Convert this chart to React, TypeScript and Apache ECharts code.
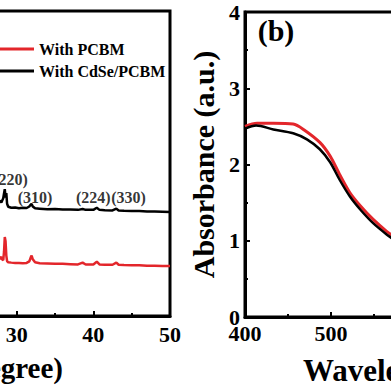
import React, { useEffect, useRef } from "react";
import * as echarts from "echarts";

// XRD panel (a)
const xrdAngle = [27.0, 27.5, 27.8, 28.0, 28.1, 28.25, 28.35, 28.45, 28.55, 28.65, 28.75, 28.9, 29.3, 29.8, 30.3, 30.8, 31.3, 31.65, 31.85, 31.95, 32.1, 32.4, 33.0, 34.0, 35.0, 36.0, 37.0, 38.0, 38.6, 39.0, 40.0, 40.45, 40.8, 41.5, 42.5, 43.0, 43.3, 44.0, 45.0, 46.0, 47.0, 48.0, 49.0, 50.0];
const xrdCdSePCBM = [36.6, 37.2, 37.8, 37.2, 37.8, 38.6, 40.2, 41.6, 38.8, 40.3, 36.8, 35.8, 35.5, 35.6, 35.3, 35.5, 35.4, 35.9, 36.6, 36.7, 35.9, 35.3, 35.2, 35.0, 35.1, 34.9, 34.9, 34.8, 35.1, 34.8, 34.8, 35.5, 34.8, 34.7, 34.6, 35.2, 34.6, 34.5, 34.4, 34.4, 34.3, 34.3, 34.2, 34.1];
const xrdPCBM = [17.8, 18.0, 18.8, 19.4, 18.6, 18.3, 21.0, 25.9, 24.5, 19.8, 18.0, 17.6, 17.5, 17.4, 17.4, 17.3, 17.4, 17.9, 19.3, 19.8, 18.6, 17.6, 17.3, 17.2, 17.1, 17.1, 17.0, 16.9, 17.5, 16.9, 16.9, 17.8, 16.9, 16.8, 16.8, 17.5, 16.8, 16.7, 16.6, 16.6, 16.5, 16.5, 16.4, 16.4];
const peakNames = ["(220)", "(310)", "(224)", "(330)"];
const peakAngles = [29.2, 32.4, 40.0, 44.6];
const peakLabelY = [44.9, 39.0, 39.0, 39.0];

// Absorbance panel (b)
const absWavelengthPCBM = [400, 414, 433, 456, 468, 487, 499, 510, 522, 534, 549, 565, 575];
const absPCBM = [2.5, 2.54, 2.54, 2.53, 2.46, 2.29, 2.11, 1.87, 1.63, 1.46, 1.28, 1.12, 1.04];
const absWavelengthCdSe = [400, 413, 433, 456, 472, 487, 499, 510, 522, 534, 549, 565, 575];
const absCdSePCBM = [2.47, 2.51, 2.46, 2.41, 2.33, 2.2, 2.03, 1.8, 1.58, 1.41, 1.23, 1.08, 1.0];

const seriesNames = ["With PCBM", "With CdSe/PCBM"];
const RED = "#e3262b";
const BLACK = "#000000";
const FONT = "'Liberation Serif', 'Times New Roman', serif";

export default function App() {
  const ref = useRef<HTMLDivElement>(null);
  useEffect(() => {
    if (!ref.current) return;
    const chart = echarts.init(ref.current, null, { renderer: "svg" });
    const axisLine = { show: true, lineStyle: { color: "#000", width: 3 } };
    const tick = { show: true, inside: true, length: 5, lineStyle: { color: "#000", width: 2 } };
    const minor = { show: true, splitNumber: 2, length: 3, lineStyle: { color: "#000", width: 2 } };
    const label = { color: "#000", fontFamily: FONT, fontWeight: "bold" as const, fontSize: 22 };
    chart.setOption({
      animation: false,
      backgroundColor: "#fff",
      legend: {
        data: seriesNames,
        orient: "vertical",
        left: -15,
        top: 36,
        icon: "rect",
        itemWidth: 44,
        itemHeight: 3,
        itemGap: 6,
        selectedMode: false,
        textStyle: { color: "#000", fontFamily: FONT, fontWeight: "bold", fontSize: 16 },
      },
      grid: [
        { left: -60, right: 221, top: 11, bottom: 75, show: true, borderColor: "#000", borderWidth: 3, backgroundColor: "transparent", outerBoundsMode: "none" },
        { left: 245, right: -198, top: 12, bottom: 74, show: true, borderColor: "#000", borderWidth: 3, backgroundColor: "transparent", outerBoundsMode: "none" },
      ],
      xAxis: [
        {
          gridIndex: 0, type: "value", min: 20, max: 50, interval: 10,
          axisLine, axisTick: tick, minorTick: minor, splitLine: { show: false },
          axisLabel: { ...label, margin: 7 },
        },
        {
          gridIndex: 1, type: "value", min: 400, max: 800, interval: 100,
          axisLine, axisTick: tick, minorTick: minor, splitLine: { show: false },
          axisLabel: { ...label, margin: 5 },
          name: "Wavelength (nm)", nameLocation: "middle", nameGap: 38,
          nameTextStyle: { color: "#000", fontFamily: FONT, fontWeight: "bold", fontSize: 31 },
        },
      ],
      yAxis: [
        { gridIndex: 0, type: "value", min: 0, max: 100, show: false, splitLine: { show: false } },
        {
          gridIndex: 1, type: "value", min: 0, max: 4, interval: 1,
          axisLine, axisTick: tick, minorTick: minor, splitLine: { show: false },
          axisLabel: { ...label, margin: 5 },
          name: "Absorbance (a.u.)", nameLocation: "middle", nameGap: 26,
          nameTextStyle: { color: "#000", fontFamily: FONT, fontWeight: "bold", fontSize: 30 },
        },
      ],
      series: [
        {
          name: seriesNames[0], type: "line", xAxisIndex: 0, yAxisIndex: 0,
          data: xrdAngle.map((a, i) => [a, xrdPCBM[i]]),
          showSymbol: false, lineStyle: { color: RED, width: 2.5 }, itemStyle: { color: RED },
        },
        {
          name: seriesNames[1], type: "line", xAxisIndex: 0, yAxisIndex: 0,
          data: xrdAngle.map((a, i) => [a, xrdCdSePCBM[i]]),
          showSymbol: false, lineStyle: { color: BLACK, width: 2.5 }, itemStyle: { color: BLACK },
        },
        {
          name: "peaks", type: "scatter", xAxisIndex: 0, yAxisIndex: 0, symbolSize: 0,
          data: peakNames.map((n, i) => ({ name: n, value: [peakAngles[i], peakLabelY[i]] })),
          label: {
            show: true, position: "inside", formatter: "{b}",
            color: "#000", fontFamily: FONT, fontWeight: "bold", fontSize: 16,
          },
        },
        {
          name: seriesNames[0], type: "line", xAxisIndex: 1, yAxisIndex: 1, smooth: 0.3,
          data: absWavelengthPCBM.map((w, i) => [w, absPCBM[i]]),
          showSymbol: false, lineStyle: { color: RED, width: 3 }, itemStyle: { color: RED },
        },
        {
          name: seriesNames[1], type: "line", xAxisIndex: 1, yAxisIndex: 1, smooth: 0.3,
          data: absWavelengthCdSe.map((w, i) => [w, absCdSePCBM[i]]),
          showSymbol: false, lineStyle: { color: BLACK, width: 2.5 }, itemStyle: { color: BLACK },
        },
      ],
      graphic: [
        {
          type: "text", x: 63, y: 368,
          style: { text: "2θ (degree)", textAlign: "right", textVerticalAlign: "middle", fill: "#000", font: `bold 29px ${FONT}` },
        },
        {
          type: "text", x: 276, y: 30,
          style: { text: "(b)", textAlign: "center", textVerticalAlign: "middle", fill: "#000", font: `bold 30px ${FONT}` },
        },
      ],
    });
    return () => chart.dispose();
  }, []);
  return <div ref={ref} style={{ position: "fixed", left: 0, top: 0, width: 391, height: 391 }} />;
}
